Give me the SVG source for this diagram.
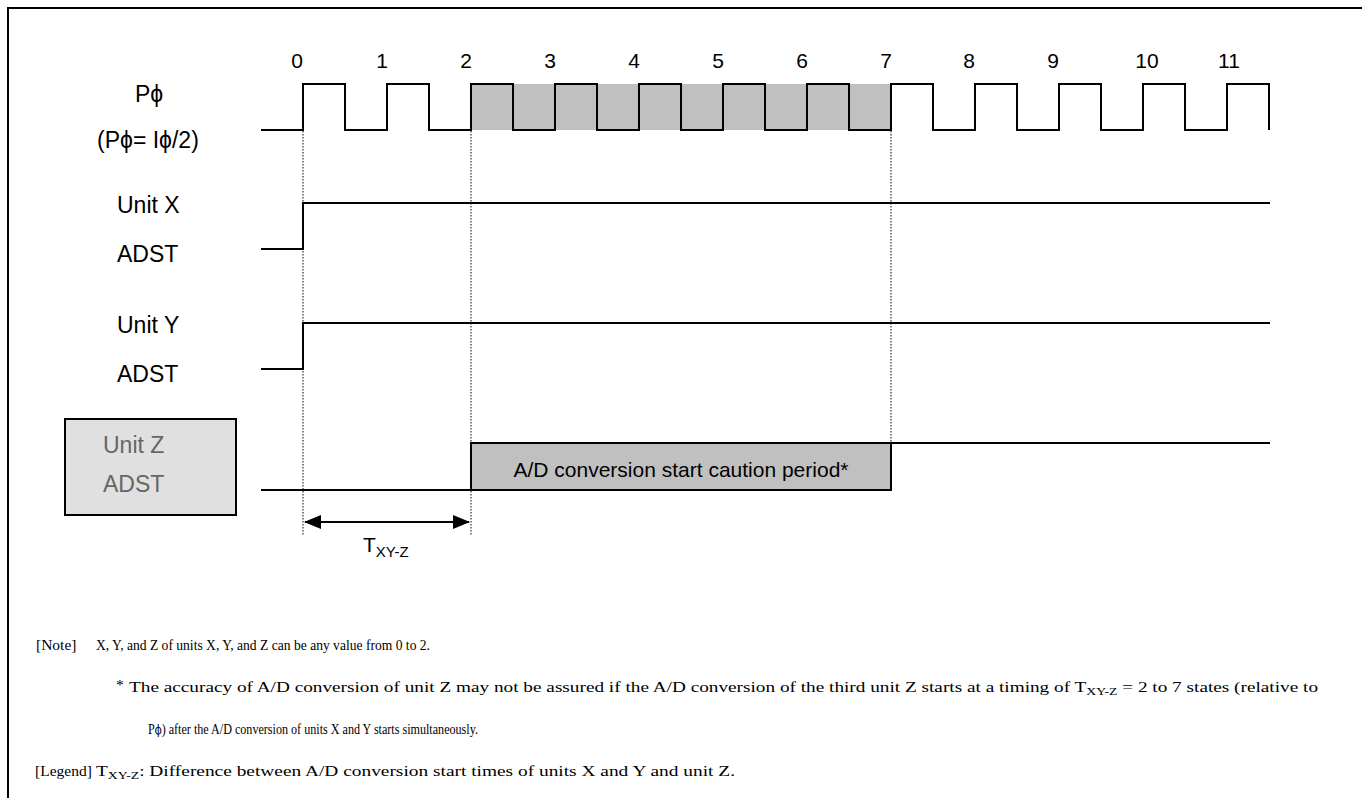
<svg xmlns="http://www.w3.org/2000/svg" width="1362" height="798" viewBox="0 0 1362 798">
<style>
.lbl{font-family:"Liberation Sans",Arial,sans-serif;font-size:23px;fill:#000}
.num{font-family:"Liberation Sans",Arial,sans-serif;font-size:21px;fill:#000;text-anchor:middle}
.note{font-family:"Liberation Serif","Times New Roman","DejaVu Serif",serif;font-size:15.5px;fill:#000}
.sig{fill:none;stroke:#000;stroke-width:2}
.dot{fill:none;stroke:#000;stroke-width:1;stroke-dasharray:1.5,1.5}
</style>
<defs>
<marker id="ah" markerWidth="17" markerHeight="14" refX="16" refY="7" orient="auto-start-reverse" markerUnits="userSpaceOnUse">
<path d="M0,0 L17,7 L0,14 Z" fill="#000"/>
</marker>
</defs>
<rect x="0" y="0" width="1362" height="798" fill="#fff"/>
<path d="M8,798 V8 H1362" fill="none" stroke="#000" stroke-width="2"/>

<g id="ticks">
<text class="num" x="297" y="68">0</text>
<text class="num" x="382" y="68">1</text>
<text class="num" x="466" y="68">2</text>
<text class="num" x="550" y="68">3</text>
<text class="num" x="634" y="68">4</text>
<text class="num" x="718" y="68">5</text>
<text class="num" x="802" y="68">6</text>
<text class="num" x="886" y="68">7</text>
<text class="num" x="969" y="68">8</text>
<text class="num" x="1053" y="68">9</text>
<text class="num" x="1147" y="68">10</text>
<text class="num" x="1229" y="68">11</text>
</g>

<g id="clock">
<text class="lbl" x="135" y="102">Pϕ</text>
<text class="lbl" x="97" y="148">(Pϕ= Iϕ/2)</text>
<rect x="471" y="84" width="420" height="46" fill="#c0c0c0"/>
<path class="sig" d="M261,130 H303 V84 H345 V130 H387 V84 H429 V130 H471 V84 H513 V130 H555 V84 H597 V130 H639 V84 H681 V130 H723 V84 H765 V130 H807 V84 H849 V130 H891 V84 H933 V130 H975 V84 H1017 V130 H1059 V84 H1101 V130 H1143 V84 H1185 V130 H1227 V84 H1269 V130"/>
</g>

<g id="unitX">
<text class="lbl" x="117" y="213">Unit X</text>
<text class="lbl" x="117" y="262">ADST</text>
<path class="sig" d="M261,249 H303 V203 H1270"/>
</g>

<g id="unitY">
<text class="lbl" x="117" y="333">Unit Y</text>
<text class="lbl" x="117" y="382">ADST</text>
<path class="sig" d="M261,369 H303 V323 H1270"/>
</g>

<g id="unitZ">
<rect x="65" y="419" width="171" height="96" fill="#e0e0e0" stroke="#000" stroke-width="2"/>
<text class="lbl" x="103" y="453" style="fill:#666">Unit Z</text>
<text class="lbl" x="103" y="492" style="fill:#666">ADST</text>
<path class="sig" d="M261,490 H471"/>
<rect x="471" y="443" width="420" height="47" fill="#c0c0c0" stroke="#000" stroke-width="2"/>
<text x="681" y="477" text-anchor="middle" font-family="Liberation Sans, Arial, sans-serif" font-size="21" fill="#000">A/D conversion start caution period*</text>
<path class="sig" d="M891,443 H1270"/>
</g>

<g id="connectors">
<line class="dot" x1="303" y1="131" x2="303" y2="536"/>
<line class="dot" x1="471" y1="131" x2="471" y2="536"/>
<line class="dot" x1="891" y1="131" x2="891" y2="443"/>
<line x1="305" y1="522" x2="469" y2="522" stroke="#000" stroke-width="2" marker-start="url(#ah)" marker-end="url(#ah)"/>
<text x="363" y="552" font-family="Liberation Sans, Arial, sans-serif" font-size="21" fill="#000">T<tspan font-size="15" dy="5">XY-Z</tspan></text>
</g>

<g id="notes">
<text class="note" x="36" y="650">[Note]</text>
<text class="note" x="96" y="650" textLength="334" lengthAdjust="spacingAndGlyphs">X, Y, and Z of units X, Y, and Z can be any value from 0 to 2.</text>
<text class="note" x="116" y="690" font-size="11">*</text>
<text class="note" x="129" y="692" textLength="1189" lengthAdjust="spacingAndGlyphs">The accuracy of A/D conversion of unit Z may not be assured if the A/D conversion of the third unit Z starts at a timing of T<tspan font-size="11" dy="3">XY-Z</tspan><tspan dy="-3"> = 2 to 7 states (relative to</tspan></text>
<text class="note" x="148" y="734" textLength="330" lengthAdjust="spacingAndGlyphs">P<tspan font-family="DejaVu Serif, serif" font-size="13">ϕ</tspan>) after the A/D conversion of units X and Y starts simultaneously.</text>
<text class="note" x="35" y="776">[Legend]</text>
<text class="note" x="96" y="776" textLength="639" lengthAdjust="spacingAndGlyphs">T<tspan font-size="11" dy="3">XY-Z</tspan><tspan dy="-3">: Difference between A/D conversion start times of units X and Y and unit Z.</tspan></text>
</g>
</svg>
